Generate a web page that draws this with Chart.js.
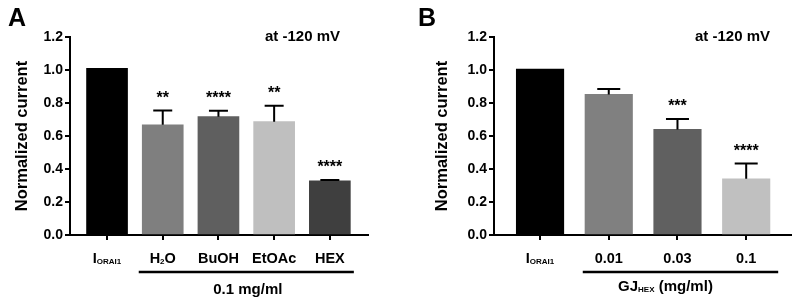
<!DOCTYPE html>
<html><head><meta charset="utf-8">
<script src="https://cdn.jsdelivr.net/npm/chart.js@4/dist/chart.umd.min.js"></script>
<style>
html,body{margin:0;padding:0;background:#fff;}
#wrap{position:relative;width:799px;height:308px;overflow:hidden;background:#fff;}
canvas{position:absolute;top:0;}
</style></head><body>
<div id="wrap">
<canvas id="cA" width="400" height="308" style="left:0"></canvas>
<canvas id="cB" width="399" height="308" style="left:400px"></canvas>
</div>
<script>
// ---- Panel A data ----
const labelsA = ['I_{ORAI1}', 'H_{2}O', 'BuOH', 'EtOAc', 'HEX'];
const valuesA = [1.01, 0.668, 0.717, 0.687, 0.329];
const errorsA = [null, 0.087, 0.036, 0.096, 0.004];
const starsA = ['', '**', '****', '**', '****'];
const colorsA = ['#000000', '#7f7f7f', '#5f5f5f', '#bfbfbf', '#3f3f3f'];
const bracketA = '0.1 mg/ml';
// ---- Panel B data ----
const labelsB = ['I_{ORAI1}', '0.01', '0.03', '0.1'];
const valuesB = [1.006, 0.852, 0.640, 0.341];
const errorsB = [null, 0.033, 0.063, 0.093];
const starsB = ['', '', '***', '****'];
const colorsB = ['#000000', '#808080', '#606060', '#c0c0c0'];
const bracketB = 'GJ_{HEX} (mg/ml)';
// ---- shared ----
const yTickValues = [0, 0.2, 0.4, 0.6, 0.8, 1.0, 1.2];
const yTitle = 'Normalized current';
const condition = 'at -120 mV';

const FF = "'Liberation Sans', Arial, Helvetica, sans-serif";
Chart.defaults.font.family = FF;
Chart.defaults.color = '#000';

function parseRich(s){
  const parts=[]; const re=/_\{([^}]*)\}/g; let last=0,m;
  while((m=re.exec(s))){ if(m.index>last) parts.push({t:s.slice(last,m.index),sub:false}); parts.push({t:m[1],sub:true}); last=re.lastIndex; }
  if(last<s.length) parts.push({t:s.slice(last),sub:false});
  return parts;
}
function drawRich(ctx, s, cx, baseline, size, subSize){
  const parts=parseRich(s);
  let total=0;
  parts.forEach(p=>{ ctx.font=`bold ${p.sub?subSize:size}px ${FF}`; p.w=ctx.measureText(p.t).width; total+=p.w; });
  let x=cx-total/2;
  ctx.textAlign='left'; ctx.textBaseline='alphabetic';
  parts.forEach(p=>{ ctx.font=`bold ${p.sub?subSize:size}px ${FF}`; ctx.fillText(p.t, x, p.sub?baseline+1:baseline); x+=p.w; });
}

const annotPlugin = {
  id: 'annot',
  afterDraw(chart, args, o) {
    const ctx=chart.ctx, xs=chart.scales.x, ys=chart.scales.y, ca=chart.chartArea;
    ctx.save();
    ctx.fillStyle='#000'; ctx.strokeStyle='#000';
    o.values.forEach((v,i)=>{
      const x=xs.getPixelForValue(i);
      let top=ys.getPixelForValue(v);
      const e=o.errors[i];
      if(e!=null){
        const yt=ys.getPixelForValue(v+e);
        ctx.lineWidth=2;
        ctx.beginPath();
        ctx.moveTo(x, ys.getPixelForValue(v)); ctx.lineTo(x, yt);
        ctx.moveTo(x-o.capW/2, yt); ctx.lineTo(x+o.capW/2, yt);
        ctx.stroke();
        top=yt;
      }
      if(o.stars[i]){
        const sz=16;
        ctx.font=`bold ${sz}px ${FF}`; ctx.textAlign='center'; ctx.textBaseline='alphabetic';
        ctx.fillText(o.stars[i], x, top-17+0.57*sz);
      }
    });
    // x labels
    o.labels.forEach((l,i)=>{
      drawRich(ctx, l, xs.getPixelForValue(i), ca.bottom+27.5, 14.5, 8);
    });
    // bracket
    const n=o.labels.length;
    const bx1=xs.getPixelForValue(1)-o.brL, bx2=xs.getPixelForValue(n-1)+o.brR;
    const by=ca.bottom+37;
    ctx.lineWidth=2.5;
    ctx.beginPath(); ctx.moveTo(bx1,by); ctx.lineTo(bx2,by); ctx.stroke();
    drawRich(ctx, o.bracket, (bx1+bx2)/2+o.brDx, ca.bottom+o.brDy, 15, 8);
    // panel letter
    ctx.font=`bold 25px ${FF}`; ctx.textAlign='left'; ctx.textBaseline='alphabetic';
    ctx.fillText(o.letter, o.letterX, 26);
    // condition
    ctx.font=`bold 15px ${FF}`; ctx.textAlign='right';
    ctx.fillText(condition, o.condX, 40.5);
    ctx.restore();
  }
};

function makeChart(id, labels, values, errors, stars, colors, bracket, p){
  const data = values.map((v,i)=>({x:i, y:v}));
  return new Chart(document.getElementById(id), {
    type:'bar',
    data:{ datasets:[{ data, backgroundColor:colors, borderWidth:0, barThickness:p.barW }] },
    options:{
      responsive:false, animation:false, devicePixelRatio:1,
      layout:{ padding:{ top:37, right:p.padR, left:0, bottom:0 } },
      plugins:{ legend:{display:false}, tooltip:{enabled:false},
        annot:{ labels, values, errors, stars, bracket, capW:p.capW, brL:p.brL, brR:p.brR, brDx:p.brDx, brDy:p.brDy, letter:p.letter, letterX:p.letterX, condX:p.condX } },
      scales:{
        x:{ type:'linear', min:p.xMin, max:p.xMax, offset:false,
            afterBuildTicks:(s)=>{ s.ticks = labels.map((_,i)=>({value:i})); },
            afterFit:(s)=>{ s.height = 73; },
            ticks:{ display:false },
            grid:{ display:true, offset:false, drawOnChartArea:false, drawTicks:true, tickLength:5, color:'#000', lineWidth:2 },
            border:{ display:true, color:'#000', width:2 } },
        y:{ min:0, max:1.2,
            afterBuildTicks:(s)=>{ s.ticks = yTickValues.map(v=>({value:v})); },
            afterFit:(s)=>{ s.width = p.axisX; },
            ticks:{ callback:(v)=>Number(v).toFixed(1), font:{size:14, weight:'bold'}, color:'#000', padding:2 },
            grid:{ display:true, drawOnChartArea:false, drawTicks:true, tickLength:5, color:'#000', lineWidth:2 },
            border:{ display:true, color:'#000', width:2 },
            title:{ display:true, text:yTitle, font:{size:16.5, weight:'bold'}, color:'#000', padding:{top:p.titlePad, bottom:0} } }
      }
    },
    plugins:[annotPlugin]
  });
}

makeChart('cA', labelsA, valuesA, errorsA, starsA, colorsA, bracketA,
  { barW:41, padR:32, axisX:70, xMin:-0.665, xMax:4.685, capW:19, brL:24, brR:24, brDx:1.5, brDy:59, letter:'A', letterX:8, condX:340, titlePad:13 });
makeChart('cB', labelsB, valuesB, errorsB, starsB, colorsB, bracketB,
  { barW:47.5, padR:8, axisX:94, xMin:-0.67, xMax:3.652, capW:23, brL:26, brR:32, brDx:-15, brDy:56, letter:'B', letterX:18, condX:370, titlePad:33 });
</script>
</body></html>
